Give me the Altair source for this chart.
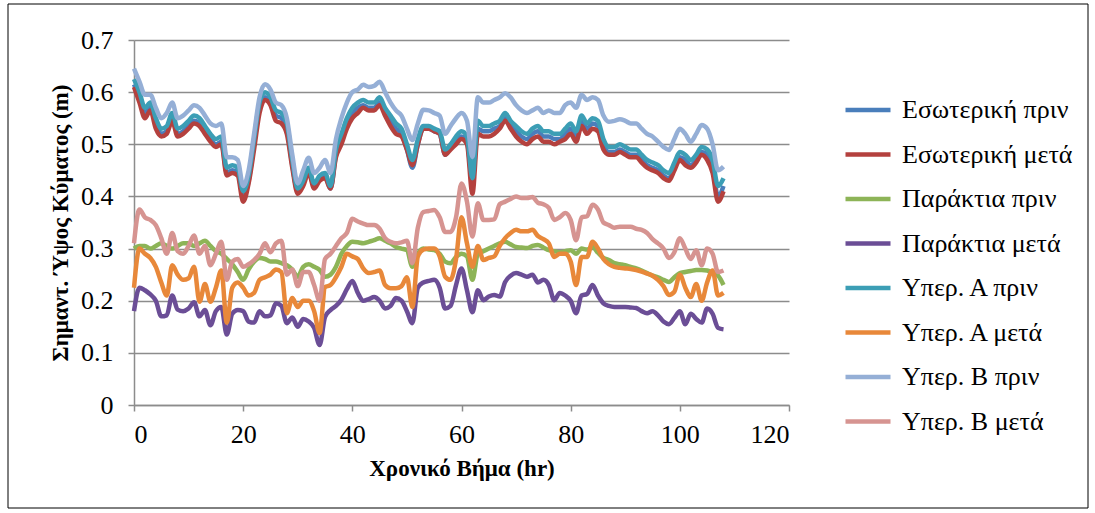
import altair as alt
import pandas as pd

hours = list(range(0, 109))

series_names = ["Εσωτερική πριν", "Εσωτερική μετά", "Παράκτια πριν", "Παράκτια μετά",
                "Υπερ. Α πριν", "Υπερ. Α μετά", "Υπερ. Β πριν", "Υπερ. Β μετά"]
series_colors = ["#4A7EBB", "#B4413E", "#8DB457", "#6B4E96",
                 "#3C9EB5", "#E8883A", "#95AFD6", "#D69491"]

int_before = [
    0.615, 0.59, 0.56, 0.57, 0.54, 0.52, 0.525, 0.55, 0.52, 0.525,
    0.535, 0.545, 0.54, 0.525, 0.51, 0.5, 0.505, 0.445, 0.45, 0.445,
    0.4, 0.43, 0.5, 0.57, 0.59, 0.58, 0.555, 0.55, 0.53, 0.46,
    0.41, 0.425, 0.45, 0.42, 0.435, 0.44, 0.415, 0.48, 0.51, 0.54,
    0.56, 0.57, 0.575, 0.57, 0.57, 0.58, 0.56, 0.545, 0.53, 0.52,
    0.49, 0.455, 0.5, 0.53, 0.53, 0.525, 0.52, 0.48, 0.495, 0.505,
    0.515, 0.505, 0.43, 0.53, 0.525, 0.525, 0.53, 0.535, 0.55, 0.535,
    0.525, 0.515, 0.51, 0.52, 0.525, 0.515, 0.515, 0.51, 0.51, 0.52,
    0.53, 0.515, 0.545, 0.53, 0.54, 0.535, 0.5, 0.485, 0.485, 0.49,
    0.485, 0.48, 0.48, 0.47, 0.46, 0.455, 0.45, 0.44, 0.435, 0.455,
    0.475, 0.47, 0.46, 0.47, 0.485, 0.48, 0.455, 0.4, 0.42]

int_after = [
    0.61, 0.58, 0.55, 0.565, 0.53, 0.515, 0.52, 0.545, 0.515, 0.52,
    0.53, 0.54, 0.535, 0.52, 0.505, 0.495, 0.5, 0.44, 0.445, 0.44,
    0.39, 0.425, 0.49, 0.56, 0.585, 0.575, 0.545, 0.54, 0.52, 0.455,
    0.405, 0.42, 0.445, 0.415, 0.43, 0.435, 0.415, 0.475, 0.5, 0.53,
    0.55, 0.56, 0.57, 0.565, 0.565, 0.575, 0.555, 0.535, 0.52, 0.515,
    0.49, 0.46, 0.5, 0.53, 0.53, 0.525, 0.52, 0.48, 0.49, 0.5,
    0.51, 0.5, 0.405, 0.52, 0.515, 0.515, 0.52, 0.53, 0.545, 0.53,
    0.515, 0.505, 0.5, 0.51, 0.515, 0.505, 0.505, 0.5, 0.505, 0.51,
    0.52, 0.505, 0.535, 0.52, 0.53, 0.525, 0.49, 0.48, 0.48, 0.485,
    0.48, 0.475, 0.475, 0.465, 0.455, 0.45, 0.445, 0.435, 0.43, 0.45,
    0.47, 0.46, 0.455, 0.465, 0.48, 0.47, 0.445, 0.39, 0.41]

coast_before = [
    0.3, 0.305, 0.305, 0.3, 0.305, 0.31, 0.305, 0.3, 0.305, 0.31,
    0.31, 0.305, 0.31, 0.315, 0.305, 0.295, 0.29, 0.28, 0.27, 0.255,
    0.24, 0.26, 0.275, 0.282, 0.28, 0.275, 0.275, 0.272, 0.268, 0.26,
    0.246, 0.265, 0.27, 0.265, 0.259, 0.246, 0.25, 0.265, 0.29, 0.305,
    0.313, 0.312, 0.31, 0.313, 0.316, 0.32, 0.315, 0.31, 0.303, 0.3,
    0.297, 0.265, 0.29, 0.3, 0.298, 0.297, 0.29, 0.275, 0.272, 0.284,
    0.29, 0.285, 0.24, 0.29, 0.295, 0.3, 0.305, 0.31, 0.313, 0.308,
    0.303, 0.302, 0.301, 0.305, 0.307, 0.302, 0.297, 0.295, 0.293, 0.295,
    0.297, 0.29, 0.3, 0.298, 0.303, 0.292, 0.282, 0.278, 0.272, 0.27,
    0.268, 0.265, 0.262, 0.258, 0.253, 0.248, 0.245, 0.24, 0.236, 0.245,
    0.253, 0.255, 0.257, 0.259, 0.259, 0.258, 0.253, 0.248, 0.23]

coast_after = [
    0.18, 0.225, 0.22, 0.212, 0.2, 0.17, 0.172, 0.21, 0.183, 0.18,
    0.185, 0.197, 0.17, 0.182, 0.153, 0.18, 0.188, 0.135, 0.175, 0.182,
    0.18, 0.16, 0.158, 0.18, 0.17, 0.172, 0.195, 0.19, 0.157, 0.168,
    0.15, 0.165, 0.16, 0.148, 0.115, 0.169, 0.182, 0.19, 0.202, 0.222,
    0.238, 0.215, 0.2, 0.203, 0.207, 0.2, 0.185, 0.19, 0.205, 0.2,
    0.18, 0.157, 0.225, 0.235, 0.238, 0.24, 0.225, 0.185, 0.19, 0.23,
    0.262, 0.22, 0.178, 0.22, 0.201, 0.208, 0.211, 0.208, 0.236, 0.248,
    0.253, 0.25, 0.246, 0.25, 0.235, 0.24, 0.23, 0.201, 0.215, 0.21,
    0.2, 0.176, 0.21, 0.213, 0.23, 0.21, 0.195, 0.19, 0.188, 0.188,
    0.188, 0.187, 0.186, 0.18, 0.176, 0.18, 0.172, 0.16, 0.155, 0.167,
    0.18, 0.155, 0.175, 0.165, 0.158, 0.185, 0.175, 0.148, 0.145]

ypA_before = [
    0.625, 0.6, 0.57, 0.58, 0.55, 0.53, 0.535, 0.56, 0.53, 0.535,
    0.545, 0.555, 0.55, 0.535, 0.52, 0.51, 0.515, 0.455, 0.46, 0.455,
    0.41, 0.44, 0.51, 0.58, 0.6, 0.59, 0.565, 0.56, 0.54, 0.47,
    0.415, 0.43, 0.455, 0.425, 0.44, 0.445, 0.42, 0.49, 0.52, 0.55,
    0.57, 0.58, 0.585, 0.58, 0.58, 0.59, 0.57, 0.555, 0.54, 0.53,
    0.5, 0.47, 0.51, 0.535, 0.535, 0.53, 0.525, 0.49, 0.5, 0.515,
    0.525, 0.515, 0.435, 0.545, 0.535, 0.535, 0.54, 0.545, 0.56, 0.545,
    0.535, 0.525, 0.52, 0.53, 0.535, 0.525, 0.525, 0.52, 0.52, 0.53,
    0.54, 0.525, 0.555, 0.54, 0.55, 0.545, 0.51, 0.495, 0.495, 0.5,
    0.495, 0.49, 0.49, 0.48, 0.47, 0.465, 0.46, 0.45, 0.445, 0.465,
    0.485, 0.48, 0.47, 0.48, 0.495, 0.49, 0.47, 0.42, 0.435]

ypA_after = [
    0.225, 0.3, 0.29, 0.282, 0.265, 0.235, 0.21, 0.268, 0.25, 0.24,
    0.243, 0.265, 0.198, 0.232, 0.198, 0.225, 0.258, 0.158, 0.225, 0.235,
    0.225, 0.21, 0.215, 0.24, 0.245, 0.25, 0.26, 0.255, 0.176, 0.205,
    0.188, 0.2, 0.2, 0.18, 0.138, 0.226, 0.23, 0.245, 0.265, 0.29,
    0.285, 0.28, 0.262, 0.253, 0.255, 0.258, 0.23, 0.224, 0.224, 0.228,
    0.245, 0.188, 0.285, 0.298, 0.3, 0.3, 0.285, 0.246, 0.24, 0.28,
    0.36, 0.31, 0.265, 0.305, 0.278, 0.282, 0.285, 0.305, 0.32, 0.33,
    0.336, 0.333, 0.333, 0.336, 0.324, 0.318, 0.31, 0.284, 0.29, 0.29,
    0.275, 0.23, 0.284, 0.284, 0.313, 0.3, 0.28, 0.27, 0.265, 0.263,
    0.262, 0.261, 0.259, 0.256, 0.252, 0.248, 0.24, 0.228, 0.211, 0.217,
    0.25, 0.225, 0.207, 0.232, 0.2, 0.235, 0.258, 0.21, 0.215]

ypB_before = [
    0.645, 0.62, 0.595, 0.595, 0.57, 0.55, 0.56, 0.58, 0.55, 0.555,
    0.565, 0.575, 0.57, 0.555, 0.54, 0.535, 0.54, 0.475, 0.475, 0.47,
    0.42, 0.45, 0.52, 0.59, 0.615, 0.605, 0.58, 0.575, 0.55, 0.48,
    0.425, 0.45, 0.474, 0.445, 0.455, 0.47, 0.445, 0.51, 0.55, 0.58,
    0.6, 0.605, 0.614, 0.61, 0.612, 0.62, 0.6, 0.58, 0.565, 0.555,
    0.53, 0.508, 0.54, 0.566, 0.565, 0.56, 0.555, 0.52, 0.535, 0.55,
    0.56, 0.545, 0.476, 0.59, 0.58, 0.58, 0.585, 0.59, 0.598, 0.59,
    0.575, 0.565, 0.56, 0.565, 0.57, 0.56, 0.565, 0.56, 0.56, 0.575,
    0.58, 0.57, 0.595, 0.585, 0.59, 0.585, 0.555, 0.543, 0.545, 0.548,
    0.545, 0.54, 0.54, 0.53, 0.52, 0.515, 0.505, 0.495, 0.489, 0.51,
    0.53, 0.52, 0.505, 0.52, 0.537, 0.53, 0.5, 0.45, 0.457]

ypB_after = [
    0.31, 0.375, 0.36, 0.355, 0.345, 0.32, 0.29, 0.33, 0.295, 0.29,
    0.305, 0.325, 0.29, 0.305, 0.268, 0.29, 0.313, 0.24, 0.275, 0.28,
    0.265, 0.27, 0.278, 0.29, 0.31, 0.293, 0.31, 0.315, 0.25, 0.26,
    0.228, 0.255, 0.255, 0.23, 0.2, 0.28, 0.29, 0.305, 0.32, 0.33,
    0.357, 0.352, 0.348, 0.345, 0.345, 0.338, 0.32, 0.313, 0.31, 0.312,
    0.315, 0.272, 0.34, 0.37, 0.372, 0.374, 0.36, 0.332, 0.332, 0.36,
    0.425, 0.39, 0.323, 0.387, 0.355, 0.355, 0.356, 0.385, 0.39, 0.395,
    0.4, 0.397, 0.397, 0.399, 0.388, 0.385, 0.378, 0.355, 0.36, 0.368,
    0.355, 0.316, 0.36, 0.362, 0.384, 0.375, 0.35, 0.345, 0.34, 0.342,
    0.342, 0.342, 0.338, 0.336, 0.33, 0.318, 0.31, 0.3, 0.282, 0.293,
    0.32, 0.3, 0.28, 0.297, 0.268, 0.3, 0.29, 0.255, 0.258]

all_series = [int_before, int_after, coast_before, coast_after,
              ypA_before, ypA_after, ypB_before, ypB_after]

rows = []
for name, vals in zip(series_names, all_series):
    for h, v in zip(hours, vals):
        rows.append({"hour": h, "value": v, "series": name})
df = pd.DataFrame(rows)

FONT = "'Liberation Serif', 'Times New Roman', 'DejaVu Serif', serif"
GRID = "#8C8C8C"

lines = alt.Chart(df).mark_line(strokeWidth=4.5, interpolate="monotone").encode(
    x=alt.X("hour:Q",
            scale=alt.Scale(domain=[0, 120], nice=False),
            axis=alt.Axis(values=[0, 20, 40, 60, 80, 100, 120], grid=False,
                          labelPadding=10,
                          title="Χρονικό Βήμα (hr)", titleX=327.5, titleY=63,
                          titleAlign="center", titleBaseline="middle")),
    y=alt.Y("value:Q",
            scale=alt.Scale(domain=[0, 0.7], nice=False),
            axis=alt.Axis(values=[0, 0.1, 0.2, 0.3, 0.4, 0.5, 0.6, 0.7],
                          labelExpr="datum.value == 0 ? '0' : format(datum.value, '.1f')",
                          labelPadding=15,
                          title="Σημαντ. Ύψος Κύματος (m)", titleX=-74, titleY=182.5,
                          titleAngle=270, titleAlign="center", titleBaseline="middle")),
    color=alt.Color("series:N",
                    scale=alt.Scale(domain=series_names, range=series_colors),
                    sort=series_names,
                    legend=alt.Legend(title=None, orient="none", legendX=709, legendY=45,
                                      symbolType="stroke", symbolSize=2025,
                                      symbolStrokeWidth=4.5, labelFont=FONT,
                                      labelFontSize=26, labelColor="#000000",
                                      labelOffset=9, rowPadding=6.5, padding=0,
                                      labelLimit=400)),
)

frame = alt.Chart(pd.DataFrame({"k": [0]})).mark_rect(
    filled=False, stroke="#000000", strokeWidth=1, clip=False
).encode(x=alt.value(-126), x2=alt.value(954), y=alt.value(-36), y2=alt.value(468))

chart = alt.layer(frame, lines).properties(
    width=655, height=365,
    autosize=alt.AutoSizeParams(type="none"),
    padding={"left": 134, "top": 40, "right": 306, "bottom": 108},
    background="#FFFFFF",
).configure_view(stroke=None).configure_axis(
    domainColor=GRID, domainWidth=1.5, gridColor=GRID, gridWidth=1.5,
    tickColor=GRID, tickWidth=1.5, tickSize=6,
    labelFont=FONT, labelFontSize=26, labelColor="#000000",
    titleFont=FONT, titleFontSize=23, titleFontWeight="bold", titleColor="#000000",
).configure_axisY(grid=True).configure_legend(labelFont=FONT, labelFontSize=26)

chart.save("out.html", embed_options={"renderer": "svg", "actions": False})
